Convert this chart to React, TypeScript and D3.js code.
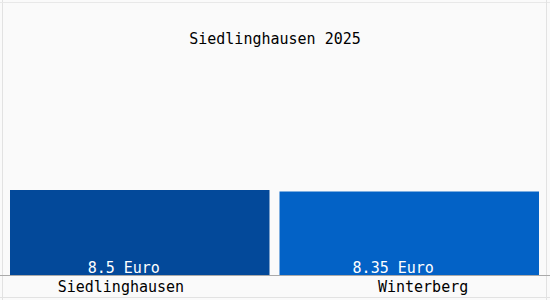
import React from "react";
import * as d3 from "d3";

const categories = ["Siedlinghausen", "Winterberg"];
const values = [8.5, 8.35];
const valueLabels = ["8.5 Euro", "8.35 Euro"];
const barColors = ["#03499a", "#0362c6"];
const title = "Siedlinghausen 2025";

const W = 550;
const H = 300;

export default function App() {
  const x = d3.scaleBand<string>().domain(categories).range([10, 539]).paddingInner(0.0371).paddingOuter(0);
  const y = d3.scaleLinear().domain([0, 27.5]).range([275, 0]);
  const labelX = d3.scalePoint<string>().domain(categories).range([-3, 547]).padding(0.41);
  const font = "'DejaVu Sans Mono', monospace";
  return (
    <svg width={W} height={H} style={{ position: "absolute", left: 0, top: 0 }}>
      <rect x={0} y={0} width={W} height={H} fill="#fafafa" />
      <line x1={2.5} y1={0} x2={2.5} y2={H} stroke="#e2e2e2" />
      <line x1={0} y1={2.5} x2={W} y2={2.5} stroke="#e8e8e8" />
      <line x1={546.5} y1={0} x2={546.5} y2={H} stroke="#e2e2e2" />
      <line x1={0} y1={297.5} x2={W} y2={297.5} stroke="#e2e2e2" />
      <text x={W / 2} y={44} textAnchor="middle" fontFamily={font} fontSize={15} fill="#000">{title}</text>
      {categories.map((c, i) => (
        <g key={c}>
          <rect x={x(c)} y={y(values[i])} width={x.bandwidth()} height={y(0) - y(values[i])} fill={barColors[i]} />
          <text x={(x(c) as number) + x.bandwidth() / 2 - 16} y={273} textAnchor="middle" fontFamily={font} fontSize={15} fill="#fff">{valueLabels[i]}</text>
          <text x={labelX(c)} y={292} textAnchor="middle" fontFamily={font} fontSize={15} fill="#000">{c}</text>
        </g>
      ))}
      <line x1={0} y1={275.5} x2={W} y2={275.5} stroke="#aaaaaa" />
    </svg>
  );
}
